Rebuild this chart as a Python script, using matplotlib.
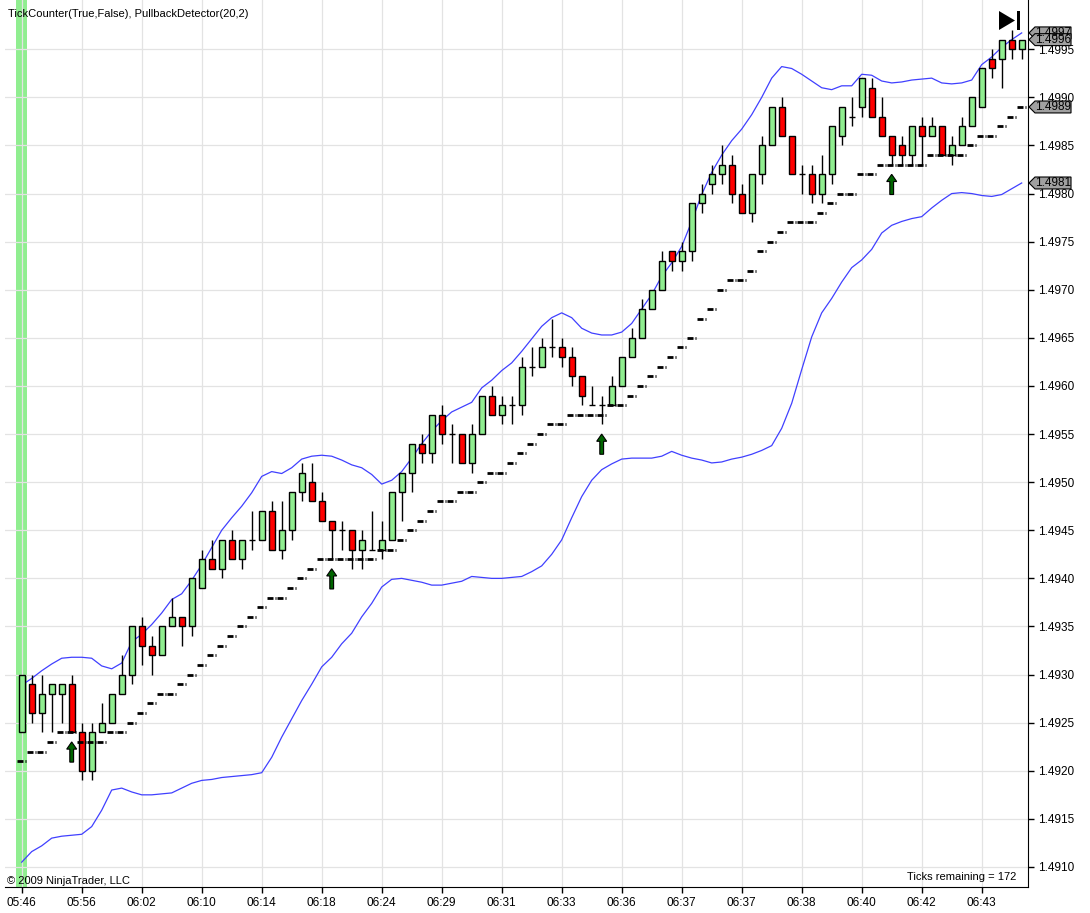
import numpy as np
import matplotlib.pyplot as plt
from matplotlib.patches import Polygon, Rectangle
from matplotlib.transforms import blended_transform_factory

plt.rcParams['font.family'] = ['Liberation Sans', 'DejaVu Sans']

W, H = 1090, 913
BASE = 1.4900
PIP = 0.0001

# prix en pips au-dessus de 1.4900
opens = [24, 29, 26, 28, 28, 29, 24, 20, 24, 25,
         28, 30, 35, 33, 32, 35, 36, 35, 39, 42,
         41, 44, 42, 44, 44, 47, 43, 45, 49, 50,
         48, 46, 45, 45, 43, 43, 43, 44, 49, 51,
         54, 53, 57, 55, 55, 52, 55, 59, 57, 58,
         58, 62, 62, 64, 64, 63, 61, 58, 58, 58,
         60, 63, 65, 68, 70, 74, 73, 74, 79, 81,
         82, 83, 80, 78, 82, 85, 89, 86, 82, 82,
         80, 82, 86, 88, 89, 91, 88, 86, 85, 84,
         87, 86, 87, 84, 85, 87, 89, 94, 94, 96,
         95]
highs = [30, 30, 30, 29, 29, 30, 25, 25, 27, 28,
         32, 35, 36, 34, 35, 38, 36, 40, 43, 44,
         44, 45, 44, 47, 47, 48, 48, 49, 52, 52,
         49, 46, 46, 45, 45, 47, 46, 49, 51, 54,
         55, 57, 58, 56, 55, 56, 59, 60, 59, 59,
         63, 64, 65, 67, 65, 64, 61, 60, 59, 61,
         63, 66, 69, 70, 74, 74, 75, 79, 81, 83,
         85, 84, 81, 82, 86, 89, 90, 86, 83, 83,
         84, 87, 89, 90, 92, 92, 90, 86, 86, 87,
         88, 88, 87, 86, 88, 90, 93, 95, 96, 97,
         96]
lows = [24, 25, 24, 24, 25, 24, 19, 19, 24, 25,
        28, 29, 31, 30, 32, 35, 33, 34, 39, 41,
        40, 42, 41, 43, 44, 43, 42, 44, 48, 48,
        46, 42, 43, 41, 41, 43, 42, 44, 46, 49,
        52, 52, 54, 52, 52, 51, 55, 57, 56, 56,
        57, 61, 62, 63, 62, 60, 58, 58, 56, 58,
        60, 63, 65, 68, 70, 72, 72, 73, 78, 80,
        81, 79, 78, 77, 81, 85, 86, 82, 80, 79,
        79, 81, 85, 87, 88, 88, 86, 83, 83, 83,
        83, 86, 84, 83, 85, 87, 89, 92, 91, 94,
        94]
closes = [30, 26, 28, 29, 29, 24, 20, 24, 25, 28,
          30, 35, 33, 32, 35, 36, 35, 40, 42, 41,
          44, 42, 44, 44, 47, 43, 45, 49, 51, 48,
          46, 45, 45, 43, 44, 43, 44, 49, 51, 54,
          53, 57, 55, 55, 52, 55, 59, 57, 58, 58,
          62, 62, 64, 64, 63, 61, 59, 58, 58, 60,
          63, 65, 68, 70, 73, 73, 74, 79, 80, 82,
          83, 80, 78, 82, 85, 89, 86, 82, 82, 80,
          82, 87, 89, 88, 92, 88, 86, 84, 84, 87,
          86, 87, 84, 85, 87, 90, 93, 93, 96, 95,
          96]

bande_haute = [28.9, 29.6, 30.4, 31.1, 31.7, 31.8, 31.8, 31.7, 30.9, 30.6,
               31.2, 33.4, 34.2, 35.2, 36.4, 37.8, 38.4, 39.8, 41.4, 43.2,
               45.0, 46.3, 47.5, 48.9, 50.6, 51.1, 50.9, 51.5, 52.4, 52.7,
               52.8, 52.7, 52.3, 51.8, 51.5, 50.8, 49.8, 50.2, 51.1, 52.5,
               54.0, 55.3, 56.4, 57.3, 57.8, 58.3, 59.8, 60.6, 61.6, 62.4,
               63.6, 64.9, 66.2, 67.1, 67.6, 67.1, 66.0, 65.5, 65.3, 65.3,
               65.6, 66.5, 68.0, 69.5, 71.4, 72.8, 74.5, 77.1, 79.9, 82.2,
               84.0, 85.5, 86.7, 88.2, 90.0, 92.0, 93.2, 93.0, 92.4, 91.7,
               91.0, 90.8, 91.2, 91.2, 92.4, 92.3, 91.7, 91.5, 91.6, 91.8,
               91.9, 92.0, 91.5, 91.4, 91.5, 91.8, 93.4, 94.2, 95.2, 96.0,
               96.7]
bande_basse = [10.5, 11.6, 12.2, 13.0, 13.2, 13.3, 13.4, 14.2, 15.9, 18.0,
               18.2, 17.8, 17.5, 17.5, 17.6, 17.7, 18.2, 18.7, 19.0, 19.1,
               19.3, 19.4, 19.5, 19.6, 19.8, 21.4, 23.5, 25.4, 27.3, 29.0,
               30.8, 31.8, 33.2, 34.3, 36.0, 37.4, 39.1, 39.9, 40.0, 39.8,
               39.6, 39.3, 39.3, 39.5, 39.7, 40.2, 40.1, 40.0, 40.0, 40.1,
               40.2, 40.7, 41.3, 42.5, 44.0, 46.3, 48.5, 50.2, 51.3, 51.9,
               52.4, 52.5, 52.5, 52.5, 52.7, 53.2, 52.8, 52.5, 52.3, 52.0,
               52.1, 52.4, 52.6, 52.9, 53.3, 53.8, 55.6, 58.2, 61.7, 65.1,
               67.6, 69.1, 70.8, 72.3, 73.1, 74.2, 75.9, 76.7, 77.1, 77.4,
               77.6, 78.5, 79.3, 80.0, 80.1, 80.0, 79.8, 79.7, 79.9, 80.5,
               81.1]
stops = [21, 22, 22, 23, 24, 24, 23, 23, 23, 24,
         24, 25, 26, 27, 28, 28, 29, 30, 31, 32,
         33, 34, 35, 36, 37, 38, 38, 39, 40, 41,
         42, 42, 42, 42, 42, 42, 43, 43, 44, 45,
         46, 47, 48, 48, 49, 49, 50, 51, 51, 52,
         53, 54, 55, 56, 56, 57, 57, 57, 57, 58,
         58, 59, 60, 61, 62, 63, 64, 65, 67, 68,
         70, 71, 71, 72, 74, 75, 76, 77, 77, 77,
         78, 79, 80, 80, 82, 82, 83, 83, 83, 83,
         83, 84, 84, 84, 84, 85, 86, 86, 87, 88,
         89]
fleches = [5, 31, 58, 87]   # barres avec signal

heures = ['05:46', '05:56', '06:02', '06:10', '06:14', '06:18', '06:24', '06:29',
          '06:31', '06:33', '06:36', '06:37', '06:37', '06:38', '06:40', '06:42', '06:43']
pos_heures = list(range(0, 97, 6))

# pips -> prix
o = BASE + np.array(opens) * PIP
h = BASE + np.array(highs) * PIP
l = BASE + np.array(lows) * PIP
c = BASE + np.array(closes) * PIP
up = BASE + np.array(bande_haute) * PIP
dn = BASE + np.array(bande_basse) * PIP
st = BASE + np.array(stops) * PIP
x = np.arange(len(opens))

fig = plt.figure(figsize=(W / 100, H / 100), dpi=100)
ax = fig.add_axes([5 / W, 1 - 887 / H, 1023 / W, 887 / H])
ax.set_xlim(-1.67, 100.63)
ax.set_ylim(1.490792, 1.500012)

# barre verte de la premiere bougie
ax.axvspan(-0.55, 0.5, color='#90EE90', lw=0, zorder=0.5)

# bandes
ax.plot(x, up, color='#4040ff', lw=0.9, zorder=2)
ax.plot(x, dn, color='#4040ff', lw=0.9, zorder=2)

# stop suiveur (tiret + point)
ax.hlines(st, x - 0.47, x + 0.13, color='black', lw=2, zorder=5)
ax.hlines(st, x + 0.30, x + 0.40, color='black', lw=2, zorder=5)

# bougies
couleurs = ['#90EE90' if cc >= oo else '#FF0000' for oo, cc in zip(o, c)]
ax.vlines(x, l, h, color='black', lw=1, zorder=3)
ax.bar(x, np.abs(c - o), bottom=np.minimum(o, c), width=0.6,
       color=couleurs, edgecolor='black', linewidth=1, zorder=4)

# fleches vertes
for i in fleches:
    yt = l[i] - 1 * PIP
    yh = yt - 0.75 * PIP
    yb = yt - 2.1 * PIP
    pts = [(i - 0.19, yb), (i + 0.19, yb), (i + 0.19, yh), (i + 0.5, yh),
           (i, yt), (i - 0.5, yh), (i - 0.19, yh)]
    ax.add_patch(Polygon(pts, closed=True, fc='#006400', ec='black', lw=0.8, zorder=6))

# axes
ax.spines['top'].set_visible(False)
ax.spines['left'].set_visible(False)
ax.yaxis.tick_right()
ax.set_yticks(np.arange(1.4910, 1.49951, 0.0005))
ax.set_yticklabels([f'{v:.4f}' for v in np.arange(1.4910, 1.49951, 0.0005)])
ax.set_xticks(pos_heures)
ax.set_xticklabels(heures)
ax.tick_params(direction='out', length=4, width=1, labelsize=8.5, pad=3, colors='black')
ax.grid(True, color='#e3e3e3', lw=0.9)
ax.set_axisbelow(True)

# etiquettes de prix a droite
tr = blended_transform_factory(fig.transFigure, ax.transData)
for v in [up[-1], c[-1], st[-1], dn[-1]]:
    hh = 0.62 * PIP
    pts = [(1029 / W, v), (1035 / W, v + hh), (1071 / W, v + hh),
           (1071 / W, v - hh), (1035 / W, v - hh)]
    ax.add_patch(Polygon(pts, closed=True, transform=tr, fc='#a0a0a0', ec='black',
                         lw=0.8, clip_on=False, zorder=7))
    ax.text(1053 / W, v, f'{v:.4f}', transform=tr, ha='center', va='center',
            fontsize=8.5, zorder=8, clip_on=False)

# icone en haut a droite
ax.add_patch(Polygon([(999 / W, 1 - 11 / H), (999 / W, 1 - 30 / H), (1015 / W, 1 - 20.5 / H)],
                     closed=True, transform=fig.transFigure, fc='black', clip_on=False, zorder=9))
ax.add_patch(Rectangle((1017 / W, 1 - 30 / H), 3 / W, 19 / H, transform=fig.transFigure,
                       fc='black', clip_on=False, zorder=9))

fig.text(8 / W, 1 - 17 / H, 'TickCounter(True,False), PullbackDetector(20,2)', fontsize=8, va='baseline')
fig.text(7 / W, 1 - 884 / H, '© 2009 NinjaTrader, LLC', fontsize=8, va='baseline')
fig.text(1016 / W, 1 - 880 / H, 'Ticks remaining = 172', fontsize=8, ha='right', va='baseline')

fig.savefig('out.png', dpi=100)
